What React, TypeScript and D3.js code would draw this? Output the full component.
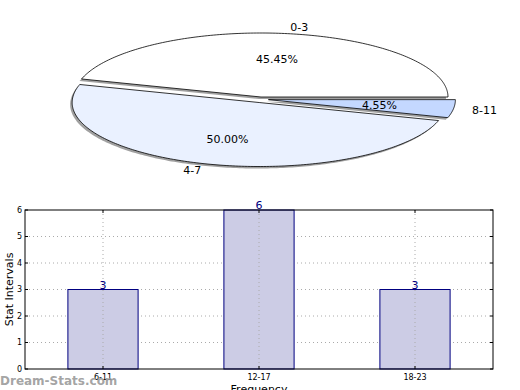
import React from 'react'
import * as d3 from 'd3'

// pie data
const pieLabels = ['0-3', '4-7', '8-11']
const pieValues = [10, 11, 1]
const pieColors = ['#ffffff', '#eaf1ff', '#c4d8ff']
const pieExplode = [0, 0.035, 0.04]

// bar data
const barCategories = ['6-11', '12-17', '18-23']
const barValues = [3, 6, 3]
const yTicks = [0, 1, 2, 3, 4, 5, 6]

const font = 'DejaVu Sans, sans-serif'

export default function App() {
  const W = 520
  const H = 390

  // ---- pie, squashed into an ellipse
  const cx = 261
  const cy = 97
  const rx = 187
  const ry = 64
  const total = d3.sum(pieValues)
  const pct = d3.format('.2f')

  // matplotlib style: start at 3 o'clock, counter clockwise
  const slices = d3.pie<number>().sort(null).startAngle(0).endAngle(2 * Math.PI)(pieValues)
  const toXY = (a: number, r: number) => [r * Math.cos(a) * rx, -r * Math.sin(a) * ry]

  const wedge = (a0: number, a1: number) => {
    const pts: [number, number][] = [[0, 0]]
    const n = Math.max(4, Math.ceil((a1 - a0) * 60))
    for (let i = 0; i <= n; i++) {
      const a = a0 + ((a1 - a0) * i) / n
      const p = toXY(a, 1)
      pts.push([p[0], p[1]])
    }
    return d3.line()(pts) + 'Z'
  }

  const wedges = slices.map((s, i) => {
    const a0 = s.startAngle
    const a1 = s.endAngle
    const mid = (a0 + a1) / 2
    const e = pieExplode[i]
    // explode offset, pushed down a bit more (matches the source render)
    const dx = e * rx * Math.cos(mid)
    const dy = -e * rx * Math.sin(mid) * 0.6 + e * 50
    return { i, a0, a1, mid, dx, dy }
  })

  // ---- bars
  const m = { left: 25, right: 493, top: 210, bottom: 369 }
  const x = d3.scaleLinear().domain([-0.5, barCategories.length - 0.5]).range([m.left, m.right])
  const y = d3.scaleLinear().domain([0, 6]).range([m.bottom, m.top])
  const bw = 0.45

  return (
    <svg width={W} height={H} style={{ position: 'absolute', left: 0, top: 0 }} fontFamily={font}>
      <rect width={W} height={H} fill="#fff" />

      <g transform={`translate(${cx},${cy})`}>
        {wedges.map(w => (
          <path key={'s' + w.i} d={wedge(w.a0, w.a1)} fill="#888" opacity={0.8}
            transform={`translate(${w.dx - 2},${w.dy + 2})`} />
        ))}
        {wedges.map(w => (
          <path key={'w' + w.i} d={wedge(w.a0, w.a1)} fill={pieColors[w.i]} stroke="#000" strokeWidth={0.8}
            transform={`translate(${w.dx},${w.dy})`} />
        ))}
        {wedges.map(w => {
          const [lx, ly] = toXY(w.mid, 1.1)
          const [px, py] = toXY(w.mid, 0.6)
          const right = Math.cos(w.mid) > 0
          return (
            <g key={'t' + w.i} fontSize={11}>
              <text x={lx + w.dx} y={ly + w.dy} dy="0.35em" textAnchor={right ? 'start' : 'end'}>{pieLabels[w.i]}</text>
              <text x={px + w.dx} y={py + w.dy} dy="0.35em" textAnchor="middle">
                {pct((pieValues[w.i] / total) * 100)}%
              </text>
            </g>
          )
        })}
      </g>

      {/* grid */}
      <g stroke="#aaa" strokeWidth={1} strokeDasharray="1,3">
        {yTicks.slice(1, -1).map(t => (
          <line key={'gy' + t} x1={m.left} x2={m.right} y1={y(t)} y2={y(t)} />
        ))}
      </g>

      {barValues.map((v, i) => (
        <rect key={'b' + i} x={x(i - bw / 2)} y={y(v)} width={x(bw) - x(0)} height={y(0) - y(v)}
          fill="#ccccE5" stroke="#000080" strokeWidth={1} />
      ))}
      <g stroke="#aaa" strokeWidth={1} strokeDasharray="1,3">
        {barCategories.map((c, i) => (
          <line key={'gx' + c} x1={x(i)} x2={x(i)} y1={m.top} y2={m.bottom} />
        ))}
      </g>
      {barValues.map((v, i) => (
        <text key={'v' + i} x={x(i)} y={y(v) - 1} textAnchor="middle" fontSize={11} fill="#000080">{v}</text>
      ))}

      <rect x={m.left} y={m.top} width={m.right - m.left} height={m.bottom - m.top} fill="none" stroke="#000" strokeWidth={1} />

      {/* y ticks */}
      {yTicks.map(t => (
        <g key={'yt' + t}>
          <line x1={m.left} x2={m.left + 3} y1={y(t)} y2={y(t)} stroke="#000" />
          <line x1={m.right - 3} x2={m.right} y1={y(t)} y2={y(t)} stroke="#000" />
          <text x={m.left - 3} y={y(t)} dy="0.35em" textAnchor="end" fontSize={8}>{t}</text>
        </g>
      ))}
      {barCategories.map((c, i) => (
        <g key={'xt' + c}>
          <line x1={x(i)} x2={x(i)} y1={m.bottom} y2={m.bottom - 3} stroke="#000" />
          <line x1={x(i)} x2={x(i)} y1={m.top} y2={m.top + 3} stroke="#000" />
          <text x={x(i)} y={m.bottom + 11} textAnchor="middle" fontSize={8}>{c}</text>
        </g>
      ))}

      <text transform={`translate(13,${(m.top + m.bottom) / 2}) rotate(-90)`} textAnchor="middle" fontSize={11}>Stat Intervals</text>
      <text x={(m.left + m.right) / 2} y={393} textAnchor="middle" fontSize={11}>Frequency</text>

      <text x={0} y={385} fontSize={12} fontWeight="bold" fill="#999" fillOpacity={0.9}>Dream-Stats.com</text>
    </svg>
  )
}
